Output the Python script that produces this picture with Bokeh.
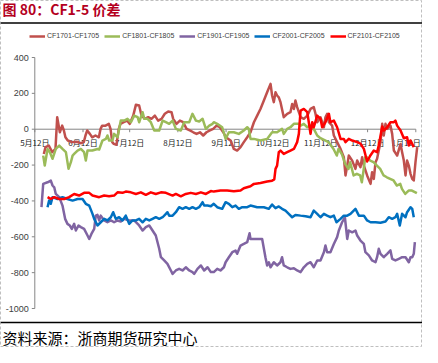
from bokeh.plotting import figure
from bokeh.models import Range1d
from bokeh.core.properties import value
from bokeh.embed import file_html
from bokeh.resources import INLINE

# ---------------- data ----------------
TITLE = "图 80：CF1-5 价差"
SOURCE = "资料来源：浙商期货研究中心"
SERIES_NAMES = ["CF1701-CF1705", "CF1801-CF1805", "CF1901-CF1905", "CF2001-CF2005", "CF2101-CF2105"]
SERIES_COLORS = ["#C0504D", "#9BBB59", "#8064A2", "#0070C0", "#FF0000"]
Y_TICKS = [400, 200, 0, -200, -400, -600, -800, -1000]
X_TICK_DAYS = [0, 31, 61, 92, 123, 153, 184, 214, 245]   # days after 5月12日
X_TICK_LABELS = ["5月12日", "6月12日", "7月12日", "8月12日", "9月12日",
                 "10月12日", "11月12日", "12月12日", "1月12日"]

cf1701_days = [5.8, 6.9, 9, 11.2, 13.3, 14.4, 16.1, 17.6, 18.7, 19.7, 21.2, 24, 27, 29.4, 31.5, 32.6, 33.7,
               35.4, 36.9, 39, 41.2, 42.3, 43.3, 45.5, 47.6, 48.7, 49.8, 50.8, 52.5, 54, 55.1, 57.2, 59.4,
               61.1, 63.3, 65, 67.1, 68.6, 70.8, 72.9, 75, 77.2, 79.3, 81.5, 83.6, 85.8, 87.9, 89, 91.1,
               93.3, 95.4, 97.6, 99.7, 101.9, 104, 106.2, 108.3, 110.4, 112.6, 114.7, 116.9, 119, 121.2,
               122.9, 125.9, 128, 130.1, 132.3, 134.4, 136.6, 138.7, 140.9, 143, 145.1, 147.3, 149.4,
               151.6, 152.6, 153.7, 154.8, 155.8, 156.9, 158, 160.1, 162.3, 164.4, 165.5, 166.6, 167.6,
               168.7, 170.9, 173, 175.2, 177.3, 179.4, 180.5, 181.6, 183.7, 185.9, 186.9, 188, 189.1,
               191.2, 192.3, 194.4, 196.6, 198.7, 199.8, 200.9, 201.9, 204.1, 206.2, 207.3, 209.4,
               210.5, 211.6, 213.7, 215.9, 216.9, 218, 219.1, 220.1, 222.3, 223.4, 224.4, 225.5, 226.6,
               228.7, 229.8, 230.9, 233, 235.2, 236.2, 237.3, 238.4, 239.4, 240.5, 241.6, 242.7, 243.7,
               244.8, 245.9]
cf1701_vals = [-138, -100, -91, -128, -110, 67, -17, 20, -7, -45, -63, -72, -70, -78, -72, -35, -7,
               -26, -45, -35, -45, 2, 20, 20, 30, 2, -72, -82, -87, 2, 30, 39, 48,
               30, 76, 136, 132, 76, 58, 67, 58, 76, 48, 58, 86, 99, 95, 58, 30,
               48, 39, 2, -7, -17, -26, -17, -35, -17, -7, 2, 20, 11, -17,
               -45, -63, -110, -119, -100, -72, -45, -17, 39, 76, 113, 160, 206,
               253, 188, 151, 206, 188, 178, 151, 67, 86, 95, 141, 113, 160,
               123, 67, 58, 76, 113, 123, 86, 39, 67, 11, 67, 86, 39,
               20, -35, -72, -110, -156, -258, -203, -147, -175, -221, -175, -212,
               -156, -203, -258, -305, -240, -277, -184, -165, -72, 30, -35, 30, 2,
               20, -26, -119, -147, -82, -128, -175, -258, -175, -203, -249, -277, -286,
               -184, -100]

cf1801_days = [5.4, 6.4, 8.2, 9.7, 11.4, 13.5, 15.7, 17.8, 20, 21.7, 23.2, 24.3, 25.3, 27.5, 29.6, 31.7,
               32.8, 33.9, 37, 40.3, 41.4, 43.5, 45.7, 46.7, 47.8, 49.9, 51, 53.2, 55.3, 57.5, 59.6,
               61.8, 63.9, 66.1, 67.1, 69.3, 70.4, 72.5, 74.6, 76.8, 80, 82.2, 84.3, 86.4, 88.6, 90.7,
               93.9, 96.1, 99.3, 101.4, 103.6, 105.7, 107.9, 110, 112.2, 114.3, 115.1, 117.3, 120.5,
               122.7, 124.8, 128, 131.2, 134.4, 136.6, 137.6, 138.7, 140.9, 145.1, 149.4, 152.6, 155.8,
               159, 160.1, 162.3, 164.4, 166.6, 169.8, 170.9, 173, 175.2, 177.3, 179.4, 181.6, 183.7,
               188.9, 192.1, 194.2, 195.3, 197.4, 199.6, 201.7, 202.8, 205, 207.1, 209.2, 210.3, 211.4,
               212.5, 213.5, 215.7, 217.8, 220, 222.1, 224.3, 226.4, 228.5, 230.7, 232.8, 235, 236.1,
               238.2, 240.4, 242.5, 245.7]
cf1801_vals = [-147, -203, -110, -128, -165, -110, -91, -110, -128, -221, -184, -147, -138, -119, -110, -128,
               -175, -119, -119, -110, -113, -63, -54, -35, -63, -63, -26, -45, 48, 48, 58,
               39, 76, 67, 39, 95, 58, 58, 39, -7, -7, 48, 39, 30, 48, 2,
               -7, 39, 39, 86, 48, 43, 58, 2, 20, 30, 39, 30, 11,
               -54, -17, -17, -26, -7, 11, 2, -54, -54, -63, -54, -17, -17,
               2, -26, 2, 11, 30, 30, 20, 30, 11, 20, 2, -35, -50,
               -72, -110, -147, -110, -138, -193, -221, -184, -258, -249, -258, -296, -230,
               -156, -156, -175, -184, -203, -221, -258, -268, -277, -286, -314, -305, -333,
               -361, -342, -342, -357]

cf1901_days = [4.3, 5.4, 8.2, 10.3, 11.4, 12.5, 13.5, 15.7, 17.8, 19.5, 21, 22.5, 23.8, 25.3, 26.4, 28.1,
               29.6, 31.7, 33.9, 35, 36.4, 38.2, 39.2, 40.3, 41.4, 42.4, 44.6, 46.7, 48.9, 51, 53.2,
               55.3, 57.5, 60.7, 63.9, 67.1, 69.3, 71.4, 73.6, 75.7, 77.8, 80, 81.1, 83.2, 85.3, 87.5,
               88.6, 90.7, 92.8, 95, 97.1, 99.3, 101.4, 102.5, 104.6, 106.8, 108.9, 111.1, 113.2, 115.1,
               117.3, 119.4, 121.6, 122.7, 124.8, 127, 129.1, 130.1, 132.3, 134.4, 136.6, 138.1, 138.7,
               146.2, 148.3, 149.4, 150.5, 151.6, 153.7, 155.8, 158, 159, 160.1, 162.3, 164.4, 166.6,
               168.7, 170.9, 173, 175.2, 177.3, 179.4, 181.6, 183.7, 185.9, 186.9, 188, 190.1, 192.3,
               194.4, 195.5, 197.6, 199.4, 200.9, 201.9, 204.1, 206.2, 207.3, 209.4, 211.6, 212.6,
               214.8, 216.9, 219.1, 220.1, 221.2, 222.3, 224.4, 226.6, 228.7, 229.8, 231.9, 234.1,
               236.2, 238.4, 240.5, 241.6, 242.7, 243.7, 244.4]
cf1901_vals = [-435, -305, -296, -287, -314, -324, -361, -379, -426, -500, -528, -537, -556, -528, -565, -537,
               -546, -556, -593, -612, -584, -556, -482, -478, -509, -482, -509, -519, -509, -519, -509,
               -515, -500, -509, -509, -537, -565, -546, -537, -565, -593, -667, -714, -732, -751, -788,
               -807, -788, -779, -788, -770, -788, -797, -807, -779, -760, -788, -770, -797, -797,
               -779, -788, -770, -742, -714, -686, -677, -695, -649, -640, -630, -580, -612,
               -612, -714, -760, -742, -770, -742, -760, -742, -714, -760, -770, -779, -775,
               -788, -797, -770, -751, -742, -770, -732, -732, -686, -649, -686, -686, -640,
               -602, -565, -519, -491, -612, -565, -575, -565, -593, -621, -640, -686,
               -704, -732, -742, -714, -667, -695, -714, -695, -676, -723, -732, -723,
               -714, -714, -742, -714, -714, -695, -630]

cf2001_days = [8.2, 9.2, 10.3, 11.4, 14.6, 17.8, 21, 24.3, 27.5, 30.7, 32.8, 35, 37.1, 38.2, 40.3, 42.4,
               44.6, 46.7, 48.9, 50.4, 52.1, 54.2, 56.4, 58.5, 60.7, 62.8, 65, 67.1, 69.3, 71.4, 73.6,
               75.7, 77.8, 80, 82.2, 84.3, 85.3, 86.4, 88.6, 90.7, 92.8, 95, 97.1, 99.3, 101.4, 103.6,
               105.7, 107.9, 108.9, 111.1, 113.2, 115.1, 117.3, 120.5, 122.7, 124.8, 127, 129.1, 131.2,
               133.4, 136.6, 138.7, 143, 147.3, 150.5, 152.6, 154.8, 156.9, 159, 161.2, 163.3, 165.5,
               167.6, 170.9, 174.1, 177.3, 179.4, 181.6, 183.7, 185.9, 188, 190.1, 192.3, 194, 196.6,
               198.7, 200.9, 203, 206.2, 208.4, 211.6, 213.7, 215.9, 219.1, 222.3, 225.5, 227.6, 229.8,
               231.9, 233, 234.7, 236.2, 238.4, 239.4, 241.6, 242.7, 243.7]
cf2001_vals = [-435, -398, -416, -379, -389, -379, -389, -398, -389, -389, -416, -426, -472, -500, -537, -519,
               -500, -509, -491, -463, -500, -491, -509, -482, -528, -509, -509, -500, -519, -500, -509,
               -500, -491, -500, -491, -472, -463, -482, -482, -463, -435, -444, -435, -444, -435, -444,
               -435, -407, -426, -426, -430, -416, -435, -444, -407, -416, -435, -426, -444,
               -435, -435, -426, -435, -435, -444, -420, -440, -431, -444, -454, -472, -491,
               -478, -482, -485, -491, -454, -472, -491, -472, -482, -491, -482, -519, -500,
               -482, -482, -472, -444, -482, -482, -509, -519, -519, -522, -515, -491, -500,
               -491, -472, -537, -472, -491, -463, -435, -444, -491]

cf2101_days = [8.2, 10.3, 12.5, 15.7, 18.9, 22.1, 25.3, 28.5, 31.7, 35, 37.1, 41.4, 44.6, 47.8, 51, 53.2,
               56.4, 58.5, 61.8, 65, 68.2, 71.4, 74.6, 77.8, 81.1, 84.3, 88.6, 90.7, 93.9, 97.1, 100.3,
               103.6, 106.8, 110, 113.2, 115.1, 119.4, 123.7, 128, 132.3, 134.4, 138.7, 140.9, 145.1,
               149.4, 152.6, 154, 154.8, 155.8, 156.9, 158, 160.1, 162.3, 164.4, 166.6, 168.7, 169.8,
               170.9, 173, 175.2, 176.2, 177.3, 178.4, 179.4, 181.6, 183.7, 184.8, 186.9, 189.1, 190.1,
               192.3, 194.4, 196.6, 198.7, 199.8, 201.9, 204.1, 207.3, 209.4, 211.6, 213.7, 215.9, 218,
               220.1, 221.2, 223.4, 224.4, 226.6, 228.7, 230.9, 231.9, 233, 235.2, 237.3, 239.4, 240.5,
               241.6, 243.7]
cf2101_vals = [-379, -389, -379, -389, -389, -379, -361, -370, -355, -355, -370, -379, -370, -374, -370, -352,
               -355, -348, -352, -361, -352, -366, -352, -361, -352, -355, -370, -361, -374, -361, -355,
               -361, -352, -361, -345, -348, -342, -342, -346, -342, -329, -318, -305, -300,
               -292, -287, -280, -221, -203, -128, -119, -138, -128, -119, -110, -72, -26,
               104, 113, 95, 39, -26, 39, 11, 76, 58, 11, 39, 86, 39,
               48, 11, -54, -54, -72, -54, -63, -72, -80, -110, -180, -145, -119,
               -128, -91, 15, -7, 11, 39, 39, 48, 20, -7, -50, -45, -91,
               -63, -100]

SERIES_DAYS = [cf1701_days, cf1801_days, cf1901_days, cf2001_days, cf2101_days]
SERIES_VALS = [cf1701_vals, cf1801_vals, cf1901_vals, cf2001_vals, cf2101_vals]

# ---------------- layout ----------------
W, H = 422, 347
AX_L, AX_R = 34.3, 415.3      # screen x of first / last date tick
AX_T, AX_B = 57.0, 308.0      # screen y of top / bottom value tick
Y_MAX, Y_MIN = max(Y_TICKS), min(Y_TICKS)
D_MIN, D_MAX = X_TICK_DAYS[0], X_TICK_DAYS[-1]
PXD = (AX_R - AX_L) / (D_MAX - D_MIN)
PXU = (AX_B - AX_T) / (Y_MAX - Y_MIN)


def fx(px):
    return D_MIN + (px - AX_L) / PXD


def fy(py):
    return Y_MAX - (py - AX_T) / PXU


p = figure(width=W, height=H, output_backend="svg", toolbar_location=None,
           x_axis_location=None, y_axis_location=None, min_border=0,
           x_range=Range1d(fx(0), fx(W)), y_range=Range1d(fy(H), fy(0)))
p.grid.grid_line_color = None
p.background_fill_color = "white"
p.border_fill_color = "white"
p.outline_line_color = "#BFBFBF"
p.outline_line_dash = "3 2"
p.outline_line_width = 1

AXIS_COLOR = "#868686"
# y axis
p.line(x=[D_MIN, D_MIN], y=[Y_MIN, Y_MAX], line_color=AXIS_COLOR, line_width=1)
p.segment(x0=[fx(AX_L - 3)] * len(Y_TICKS), x1=[D_MIN] * len(Y_TICKS), y0=Y_TICKS, y1=Y_TICKS,
          line_color=AXIS_COLOR, line_width=1)
p.text(x=[D_MIN] * len(Y_TICKS), y=Y_TICKS, text=[str(t) for t in Y_TICKS], x_offset=-6,
       text_align="right", text_baseline="middle", text_font=value("Liberation Sans"),
       text_font_size="9px", text_color="#404040")
# x axis at zero
p.line(x=[D_MIN, D_MAX], y=[0, 0], line_color=AXIS_COLOR, line_width=1)
p.segment(x0=X_TICK_DAYS, x1=X_TICK_DAYS, y0=[0] * len(X_TICK_DAYS),
          y1=[-3 / PXU] * len(X_TICK_DAYS), line_color=AXIS_COLOR, line_width=1)
XLAB_STYLE = dict(text_baseline="top", text_font=value("Noto Sans CJK SC"),
                  text_font_size="8px", text_color="#262626", y_offset=8)
p.text(x=X_TICK_DAYS[:-1], y=[0] * (len(X_TICK_DAYS) - 1), text=X_TICK_LABELS[:-1],
       text_align="center", **XLAB_STYLE)
# last date label: kept inside the canvas edge
p.text(x=X_TICK_DAYS[-1:], y=[0], text=X_TICK_LABELS[-1:], text_align="right",
       x_offset=5, **XLAB_STYLE)

# series
for name, color, days, vals in zip(SERIES_NAMES, SERIES_COLORS, SERIES_DAYS, SERIES_VALS):
    p.line(days, vals, line_color=color, line_width=2.5, line_join="round", legend_label=name)

leg = p.legend[0]
leg.orientation = "horizontal"
leg.location = (29, H - 39.5)
leg.padding = 0
leg.margin = 0
leg.spacing = 5
leg.glyph_width = 16
leg.glyph_height = 8
leg.label_height = 8
leg.label_width = 52
leg.label_standoff = 2
leg.label_text_font = "Liberation Sans"
leg.label_text_font_size = "7px"
leg.label_text_color = "#404040"
leg.background_fill_alpha = 0
leg.border_line_color = None

# title, rules and source
p.text(x=[fx(2)], y=[fy(8.5)], text=[TITLE], text_align="left", text_baseline="middle",
       text_font=value("Noto Sans CJK SC"), text_font_style="bold", text_font_size="14px",
       text_color="#B4001E")
p.line(x=[fx(0), fx(W)], y=[fy(22.5), fy(22.5)], line_color="black", line_width=1.5)
p.line(x=[fx(0), fx(W)], y=[fy(322), fy(322)], line_color="black", line_width=1.5)
p.text(x=[fx(2)], y=[fy(336.5)], text=[SOURCE], text_align="left", text_baseline="middle",
       text_font=value("Noto Sans CJK SC"), text_font_size="15px", text_color="black")

open("out.html", "w").write(file_html(p, INLINE))
